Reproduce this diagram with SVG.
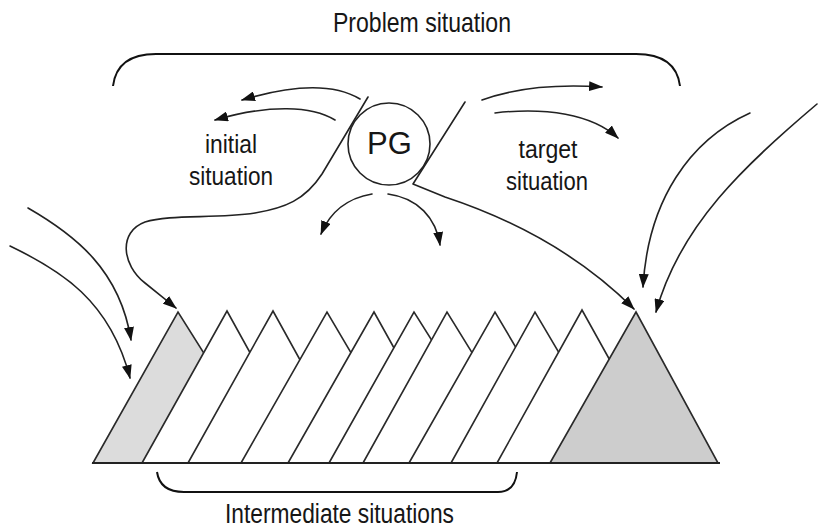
<svg xmlns="http://www.w3.org/2000/svg" width="818" height="531" viewBox="0 0 818 531">
<style>
.t{font-family:"Liberation Sans",Arial,sans-serif;fill:#161616;text-anchor:middle}
.ln{fill:none;stroke:#222;stroke-width:1.6;stroke-linecap:round;stroke-linejoin:round}
.br{fill:none;stroke:#111;stroke-width:2}
.sh{fill:#fff;stroke:#2a2a2a;stroke-width:1.6;stroke-linejoin:miter}
.arr{marker-end:url(#ah)}
</style>
<defs>
<marker id="ah" markerUnits="userSpaceOnUse" markerWidth="15" markerHeight="10" refX="13" refY="5" orient="auto">
<path d="M0,0 L14,5 L0,10 Z" fill="#111"/>
</marker>
</defs>
<rect width="818" height="531" fill="#fff"/>

<g id="problem-situation">
<path class="br" d="M113,86 Q117,54 156,54 H636 Q676,54 680,86"/>
<text class="t" x="422" y="31.5" font-size="28" textLength="178" lengthAdjust="spacingAndGlyphs">Problem situation</text>
</g>

<g id="sheets">
<polygon class="sh" points="93,463 178,312 273,463" style="fill:#dcdcdc"/>
<polygon class="sh" points="142,463 227,311 311,463"/>
<polygon class="sh" points="188,463 273,311 357,463"/>
<polygon class="sh" points="241,463 327,312 416,463"/>
<polygon class="sh" points="288,463 374,312 458,463"/>
<polygon class="sh" points="329,463 414,312 509,463"/>
<polygon class="sh" points="363,463 447,312 540,463"/>
<polygon class="sh" points="409,463 495,312 584,463"/>
<polygon class="sh" points="451,463 535,312 624,463"/>
<polygon class="sh" points="497,463 582,310 667,463"/>
<polygon class="sh" points="550,463 636,312 718,463" style="fill:#cdcdcd"/>
<line x1="92" y1="463" x2="720" y2="463" stroke="#222" stroke-width="2"/>
</g>

<g id="pg">
<circle cx="389" cy="144" r="41" fill="none" stroke="#222" stroke-width="1.6"/>
<text class="t" x="389.5" y="154" font-size="31">PG</text>
</g>

<g id="initial-situation">
<text class="t" x="231" y="153" font-size="26" textLength="52" lengthAdjust="spacingAndGlyphs">initial</text>
<text class="t" x="231" y="185" font-size="26" textLength="84" lengthAdjust="spacingAndGlyphs">situation</text>
</g>

<g id="target-situation">
<text class="t" x="548" y="158" font-size="26" textLength="59" lengthAdjust="spacingAndGlyphs">target</text>
<text class="t" x="547" y="190" font-size="26" textLength="82" lengthAdjust="spacingAndGlyphs">situation</text>
</g>

<g id="intermediate-situations">
<path class="br" d="M157,472 Q160,492 184,492 H498 Q515,492 517,472"/>
<text class="t" x="339.5" y="523" font-size="27" textLength="229" lengthAdjust="spacingAndGlyphs">Intermediate situations</text>
</g>

<g id="connectors">
<path class="ln arr" d="M360,99 C335,84 295,84 242,100"/>
<path class="ln arr" d="M335,120 C312,106 270,104 215,120"/>
<path class="ln arr" d="M372,194 C348,198 330,212 321,234"/>
<path class="ln arr" d="M388,194 C418,198 436,218 440,245"/>
<path class="ln arr" d="M482,100 C515,88 555,84 602,87"/>
<path class="ln arr" d="M495,113 C545,107 592,114 618,138"/>
<path class="ln arr" d="M750,113 C690,140 648,200 643,287"/>
<path class="ln arr" d="M817,104 C745,165 680,225 656,312"/>
<path class="ln arr" d="M28,208 C75,235 120,270 131,340"/>
<path class="ln arr" d="M10,246 C60,270 110,300 130,378"/>
<path class="ln arr" d="M368,97 L322,174 C305,200 285,208 255,213 C215,219 170,214 145,222 C118,232 122,265 145,283 L176,308"/>
<path class="ln arr" d="M465,102 L413,184 L445,197 Q560,235 634,309"/>
</g>
</svg>
